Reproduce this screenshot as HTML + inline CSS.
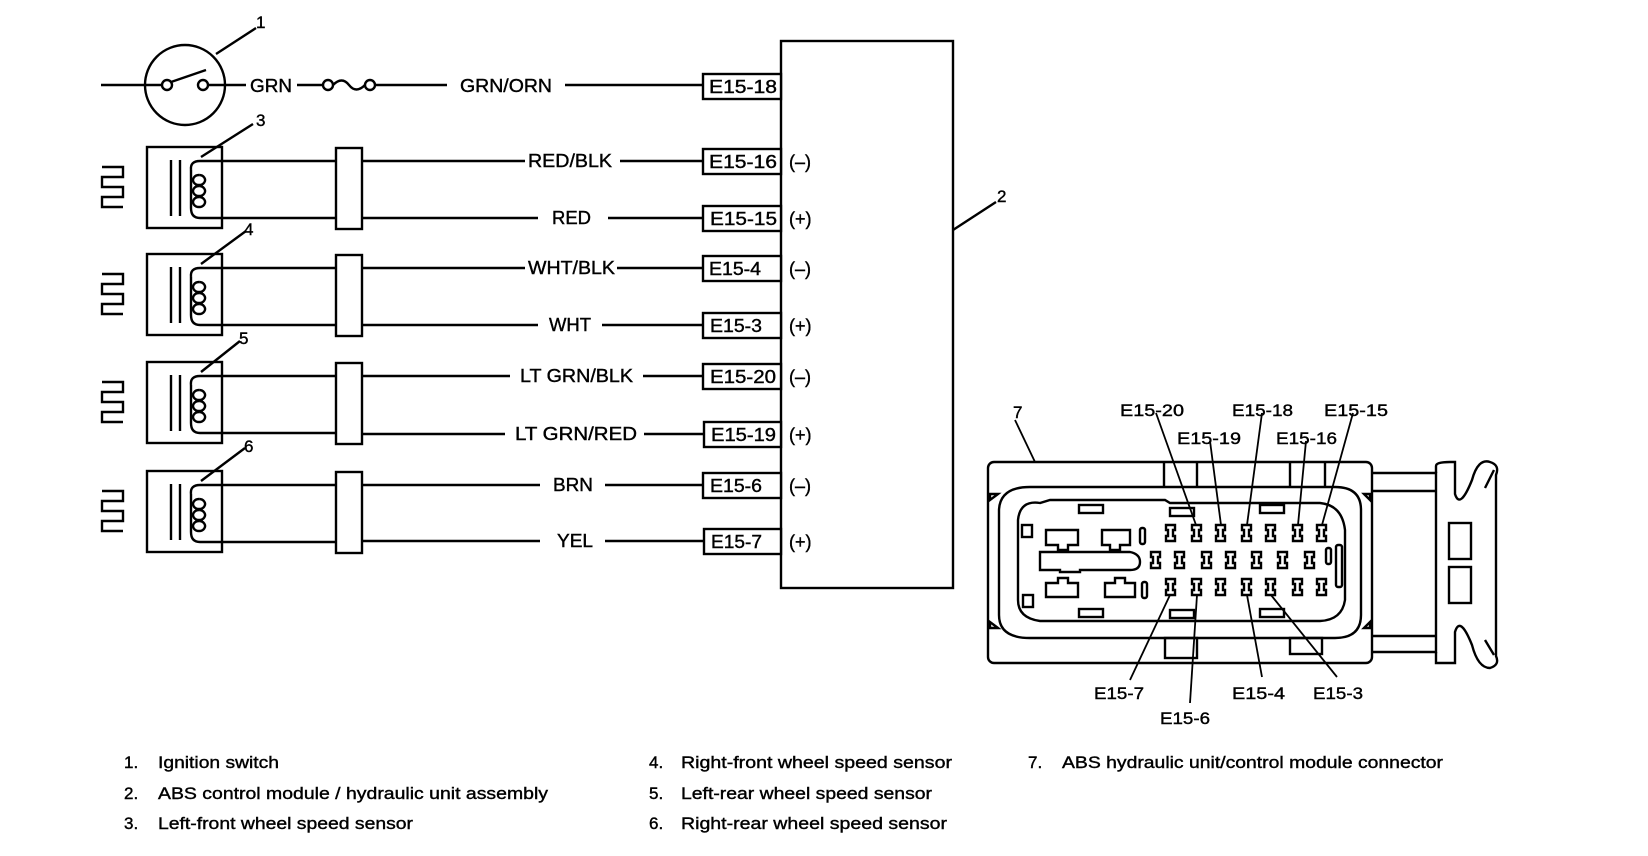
<!DOCTYPE html>
<html><head><meta charset="utf-8"><style>
html,body{margin:0;padding:0;background:#fff;}
svg{display:block;}
text{font-family:"Liberation Sans",Arial,sans-serif;fill:#000;stroke:#000;stroke-width:0.4;}
</style></head><body>
<svg width="1648" height="856" viewBox="0 0 1648 856" xmlns="http://www.w3.org/2000/svg">
<defs>
<g id="sensor" stroke="#000" stroke-width="2.4" fill="none">
<rect x="147" y="147" width="75" height="81"/>
<line x1="171" y1="160" x2="171" y2="216"/><line x1="180" y1="160" x2="180" y2="216"/>
<path d="M200,161 Q190,161 191,170 M199,175 a6,5 0 1 0 0.1,0 M199,186 a6,5 0 1 0 0.1,0 M199,197 a6,5 0 1 0 0.1,0 M191,208 Q191,218 200,218"/>
<line x1="191" y1="170" x2="191" y2="208"/>
<path d="M102,167 H123 V177 H102 V187 H123 V197 H102 V207 H123"/>
<line x1="200" y1="161" x2="336" y2="161"/><line x1="200" y1="218" x2="336" y2="218"/>
<rect x="336" y="148" width="26" height="81"/>
</g>
</defs>
<g stroke="#000" stroke-width="2.4" fill="none">
<circle cx="185" cy="85" r="40"/>
<line x1="101" y1="85" x2="163" y2="85"/>
<circle cx="167" cy="85" r="5" fill="#fff"/>
<circle cx="203" cy="85" r="5" fill="#fff"/>
<line x1="171" y1="82" x2="206" y2="70"/>
<line x1="208" y1="85" x2="246" y2="85"/>
<line x1="216" y1="54" x2="256" y2="28"/>
<line x1="297" y1="85" x2="323" y2="85"/>
<circle cx="328" cy="85" r="5" fill="#fff"/>
<circle cx="370" cy="85" r="5" fill="#fff"/>
<path d="M333,85 Q342,76 349,85 Q356,94 365,85"/>
<line x1="375" y1="85" x2="447" y2="85"/>
<line x1="565" y1="85" x2="703" y2="85"/>
<rect x="781" y="41" width="172" height="547"/>
<line x1="953" y1="230" x2="996" y2="202"/>
</g>
<text x="256" y="28" font-size="17">1</text>
<text x="250" y="92" font-size="18" textLength="42" lengthAdjust="spacingAndGlyphs">GRN</text>
<text x="460" y="92" font-size="18" textLength="92" lengthAdjust="spacingAndGlyphs">GRN/ORN</text>
<text x="997" y="202" font-size="17">2</text>
<rect x="703" y="74" width="78" height="25" stroke="#000" stroke-width="2.4" fill="#fff"/>
<text x="709" y="93" font-size="18" textLength="68" lengthAdjust="spacingAndGlyphs">E15-18</text>

<use href="#sensor"/>
<use href="#sensor" transform="translate(0,107)"/>
<use href="#sensor" transform="translate(0,215)"/>
<use href="#sensor" transform="translate(0,324)"/>
<g stroke="#000" stroke-width="2.4" fill="none">
<line x1="362" y1="161" x2="525" y2="161"/><line x1="362" y1="218" x2="538" y2="218"/>
<line x1="201" y1="157" x2="253" y2="124"/>
<line x1="362" y1="268" x2="525" y2="268"/><line x1="362" y1="325" x2="538" y2="325"/>
<line x1="201" y1="264" x2="246" y2="231"/>
<line x1="362" y1="376" x2="510" y2="376"/><line x1="362" y1="434" x2="505" y2="434"/>
<line x1="201" y1="372" x2="240" y2="341"/>
<line x1="362" y1="485" x2="540" y2="485"/><line x1="362" y1="541" x2="540" y2="541"/>
<line x1="201" y1="481" x2="245" y2="448"/>
<line x1="620" y1="161" x2="703" y2="161"/>
<line x1="608" y1="218" x2="703" y2="218"/>
<line x1="617" y1="268" x2="703" y2="268"/>
<line x1="602" y1="325" x2="703" y2="325"/>
<line x1="643" y1="376" x2="703" y2="376"/>
<line x1="644" y1="434" x2="703" y2="434"/>
<line x1="605" y1="485" x2="703" y2="485"/>
<line x1="605" y1="541" x2="703" y2="541"/>
</g>
<g font-size="17">
<text x="256" y="126">3</text>
<text x="244" y="235">4</text>
<text x="239" y="344">5</text>
<text x="244" y="452">6</text>
</g>
<g font-size="18">
<text x="528" y="167" textLength="84" lengthAdjust="spacingAndGlyphs">RED/BLK</text>
<text x="552" y="224" textLength="39" lengthAdjust="spacingAndGlyphs">RED</text>
<text x="528" y="274" textLength="87" lengthAdjust="spacingAndGlyphs">WHT/BLK</text>
<text x="549" y="331" textLength="42" lengthAdjust="spacingAndGlyphs">WHT</text>
<text x="520" y="382" textLength="113" lengthAdjust="spacingAndGlyphs">LT GRN/BLK</text>
<text x="515" y="440" textLength="122" lengthAdjust="spacingAndGlyphs">LT  GRN/RED</text>
<text x="553" y="491" textLength="40" lengthAdjust="spacingAndGlyphs">BRN</text>
<text x="557" y="547" textLength="36" lengthAdjust="spacingAndGlyphs">YEL</text>
</g>
<g stroke="#000" stroke-width="2.4" fill="#fff">
<rect x="703" y="149" width="78" height="25"/>
<rect x="703" y="206" width="78" height="25"/>
<rect x="703" y="256" width="78" height="25"/>
<rect x="703" y="313" width="78" height="25"/>
<rect x="703" y="364" width="78" height="25"/>
<rect x="704" y="422" width="77" height="25"/>
<rect x="703" y="473" width="78" height="25"/>
<rect x="704" y="529" width="77" height="25"/>
</g>
<g font-size="18">
<text x="709" y="168" textLength="68" lengthAdjust="spacingAndGlyphs">E15-16</text>
<text x="710" y="225" textLength="67" lengthAdjust="spacingAndGlyphs">E15-15</text>
<text x="709" y="275" textLength="52" lengthAdjust="spacingAndGlyphs">E15-4</text>
<text x="710" y="332" textLength="52" lengthAdjust="spacingAndGlyphs">E15-3</text>
<text x="710" y="383" textLength="66" lengthAdjust="spacingAndGlyphs">E15-20</text>
<text x="711" y="441" textLength="65" lengthAdjust="spacingAndGlyphs">E15-19</text>
<text x="710" y="492" textLength="52" lengthAdjust="spacingAndGlyphs">E15-6</text>
<text x="711" y="548" textLength="51" lengthAdjust="spacingAndGlyphs">E15-7</text>
<text x="789" y="168">(–)</text>
<text x="789" y="225">(+)</text>
<text x="789" y="275">(–)</text>
<text x="789" y="332">(+)</text>
<text x="789" y="383">(–)</text>
<text x="789" y="441">(+)</text>
<text x="789" y="492">(–)</text>
<text x="789" y="548">(+)</text>
</g>

<g stroke="#000" stroke-width="2.4" fill="none">
<rect x="988" y="462" width="384" height="201" rx="6"/>
<path d="M999,510 Q1000,487 1030,487 H1335 Q1361,487 1361,510 V615 Q1361,638 1335,638 H1030 Q999,638 999,615 Z"/>
<path d="M1018,520 Q1020,500 1040,503 L1050,500 H1165 L1170,503 H1320 Q1342,505 1345,530 V600 Q1342,620 1320,621 H1040 Q1018,618 1018,600 Z"/>
<line x1="1164" y1="462" x2="1164" y2="487"/><line x1="1197" y1="462" x2="1197" y2="487"/>
<line x1="1290" y1="462" x2="1290" y2="487"/><line x1="1325" y1="462" x2="1325" y2="487"/>
<rect x="1165" y="638" width="32" height="20"/><rect x="1290" y="638" width="32" height="16"/>
<path d="M1372,473 H1436 V652 H1372"/>
<line x1="1372" y1="491" x2="1436" y2="491"/>
<line x1="1372" y1="636" x2="1436" y2="636"/>
<path d="M1436,473 V466 Q1436,462 1450,462 H1455 V494 Q1460,510 1472,480 Q1478,458 1490,462 Q1500,465 1496,475 V656 Q1500,665 1490,668 Q1478,668 1472,645 Q1460,615 1455,632 V663 H1436 V652"/>
<rect x="1449" y="523" width="22" height="36"/>
<rect x="1449" y="567" width="22" height="36"/>
<path d="M1485,488 L1494,470 M1485,640 L1494,655"/>
<rect x="1022" y="525" width="10" height="12"/>
<rect x="1023" y="595" width="10" height="12"/>
<path d="M1046,530 H1078 V545 H1068 V550 H1058 V545 H1046 Z"/>
<path d="M1102,530 H1130 V545 H1120 V550 H1110 V545 H1102 Z"/>
<path d="M1040,552 H1130 Q1140,554 1140,562 Q1140,570 1130,570 H1080 V572 H1060 V570 H1040 Z"/>
<path d="M1046,583 H1058 V578 H1068 V583 H1078 V597 H1046 Z"/>
<path d="M1105,583 H1115 V578 H1125 V583 H1135 V597 H1105 Z"/>
<rect x="1140" y="528" width="5" height="16" rx="2"/>
<rect x="1142" y="582" width="5" height="16" rx="2"/>
<rect x="1326" y="548" width="5" height="16" rx="2"/>
<rect x="1336" y="545" width="6" height="42" rx="2"/>
<rect x="1079" y="505" width="24" height="8"/><rect x="1170" y="508" width="24" height="8"/><rect x="1260" y="505" width="24" height="8"/>
<rect x="1079" y="609" width="24" height="8"/><rect x="1170" y="610" width="24" height="8"/><rect x="1260" y="609" width="24" height="8"/>
<path d="M998,494 L990,500 V494 Z M1364,494 L1370,500 V494 Z M998,628 L990,622 V628 Z M1364,628 L1370,622 V628 Z"/>
</g>
<g stroke="#000" stroke-width="2.4" fill="none">
<path d="M1166,525 h9 v5 h-2 v6 h2 v5 h-9 v-5 h2 v-6 h-2 z"/>
<path d="M1192,525 h9 v5 h-2 v6 h2 v5 h-9 v-5 h2 v-6 h-2 z"/>
<path d="M1216,525 h9 v5 h-2 v6 h2 v5 h-9 v-5 h2 v-6 h-2 z"/>
<path d="M1242,525 h9 v5 h-2 v6 h2 v5 h-9 v-5 h2 v-6 h-2 z"/>
<path d="M1266,525 h9 v5 h-2 v6 h2 v5 h-9 v-5 h2 v-6 h-2 z"/>
<path d="M1293,525 h9 v5 h-2 v6 h2 v5 h-9 v-5 h2 v-6 h-2 z"/>
<path d="M1317,525 h9 v5 h-2 v6 h2 v5 h-9 v-5 h2 v-6 h-2 z"/>
<path d="M1151,552 h9 v5 h-2 v6 h2 v5 h-9 v-5 h2 v-6 h-2 z"/>
<path d="M1175,552 h9 v5 h-2 v6 h2 v5 h-9 v-5 h2 v-6 h-2 z"/>
<path d="M1202,552 h9 v5 h-2 v6 h2 v5 h-9 v-5 h2 v-6 h-2 z"/>
<path d="M1226,552 h9 v5 h-2 v6 h2 v5 h-9 v-5 h2 v-6 h-2 z"/>
<path d="M1252,552 h9 v5 h-2 v6 h2 v5 h-9 v-5 h2 v-6 h-2 z"/>
<path d="M1278,552 h9 v5 h-2 v6 h2 v5 h-9 v-5 h2 v-6 h-2 z"/>
<path d="M1305,552 h9 v5 h-2 v6 h2 v5 h-9 v-5 h2 v-6 h-2 z"/>
<path d="M1166,579 h9 v5 h-2 v6 h2 v5 h-9 v-5 h2 v-6 h-2 z"/>
<path d="M1192,579 h9 v5 h-2 v6 h2 v5 h-9 v-5 h2 v-6 h-2 z"/>
<path d="M1216,579 h9 v5 h-2 v6 h2 v5 h-9 v-5 h2 v-6 h-2 z"/>
<path d="M1242,579 h9 v5 h-2 v6 h2 v5 h-9 v-5 h2 v-6 h-2 z"/>
<path d="M1266,579 h9 v5 h-2 v6 h2 v5 h-9 v-5 h2 v-6 h-2 z"/>
<path d="M1293,579 h9 v5 h-2 v6 h2 v5 h-9 v-5 h2 v-6 h-2 z"/>
<path d="M1317,579 h9 v5 h-2 v6 h2 v5 h-9 v-5 h2 v-6 h-2 z"/>
</g>
<g stroke="#000" stroke-width="1.8">
<line x1="1156" y1="413" x2="1196" y2="525"/>
<line x1="1210" y1="441" x2="1221" y2="525"/>
<line x1="1262" y1="413" x2="1247" y2="525"/>
<line x1="1306" y1="441" x2="1298" y2="525"/>
<line x1="1353" y1="413" x2="1322" y2="525"/>
<line x1="1015" y1="420" x2="1035" y2="462"/>
<line x1="1130" y1="680" x2="1170" y2="595"/>
<line x1="1190" y1="703" x2="1197" y2="595"/>
<line x1="1262" y1="677" x2="1247" y2="595"/>
<line x1="1337" y1="677" x2="1271" y2="595"/>
</g>
<g font-size="17">
<text x="1013" y="418">7</text>
<text x="1120" y="416" textLength="64" lengthAdjust="spacingAndGlyphs">E15-20</text>
<text x="1232" y="416" textLength="61" lengthAdjust="spacingAndGlyphs">E15-18</text>
<text x="1324" y="416" textLength="64" lengthAdjust="spacingAndGlyphs">E15-15</text>
<text x="1177" y="444" textLength="64" lengthAdjust="spacingAndGlyphs">E15-19</text>
<text x="1276" y="444" textLength="61" lengthAdjust="spacingAndGlyphs">E15-16</text>
<text x="1094" y="699" textLength="50" lengthAdjust="spacingAndGlyphs">E15-7</text>
<text x="1160" y="724" textLength="50" lengthAdjust="spacingAndGlyphs">E15-6</text>
<text x="1232" y="699" textLength="53" lengthAdjust="spacingAndGlyphs">E15-4</text>
<text x="1313" y="699" textLength="50" lengthAdjust="spacingAndGlyphs">E15-3</text>
</g>
<g font-size="17">
<text x="124" y="768">1.</text><text x="158" y="768" textLength="121" lengthAdjust="spacingAndGlyphs">Ignition switch</text>
<text x="124" y="799">2.</text><text x="158" y="799" textLength="390" lengthAdjust="spacingAndGlyphs">ABS control module / hydraulic unit assembly</text>
<text x="124" y="829">3.</text><text x="158" y="829" textLength="255" lengthAdjust="spacingAndGlyphs">Left-front wheel speed sensor</text>
<text x="649" y="768">4.</text><text x="681" y="768" textLength="271" lengthAdjust="spacingAndGlyphs">Right-front wheel speed sensor</text>
<text x="649" y="799">5.</text><text x="681" y="799" textLength="251" lengthAdjust="spacingAndGlyphs">Left-rear wheel speed sensor</text>
<text x="649" y="829">6.</text><text x="681" y="829" textLength="266" lengthAdjust="spacingAndGlyphs">Right-rear wheel speed sensor</text>
<text x="1028" y="768">7.</text><text x="1062" y="768" textLength="381" lengthAdjust="spacingAndGlyphs">ABS hydraulic unit/control module connector</text>
</g>
</svg>
</body></html>
